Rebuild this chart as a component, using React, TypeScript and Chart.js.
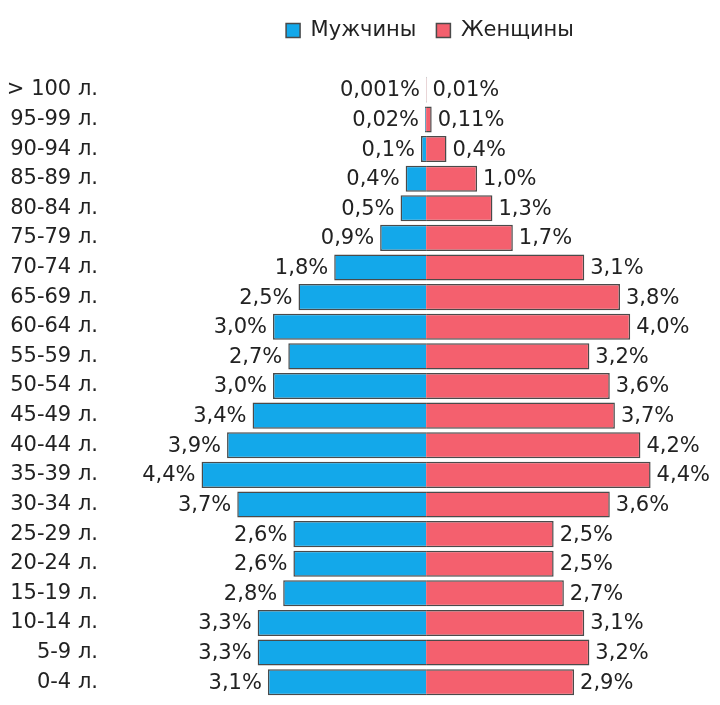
import React, { useEffect, useRef } from "react";
import { Chart, registerables } from "chart.js";

Chart.register(...registerables);

const AGE_GROUPS = [
  "> 100 л.", "95-99 л.", "90-94 л.", "85-89 л.", "80-84 л.", "75-79 л.",
  "70-74 л.", "65-69 л.", "60-64 л.", "55-59 л.", "50-54 л.", "45-49 л.",
  "40-44 л.", "35-39 л.", "30-34 л.", "25-29 л.", "20-24 л.", "15-19 л.",
  "10-14 л.", "5-9 л.", "0-4 л.",
];

const MALE = [0.001, 0.02, 0.1, 0.4, 0.5, 0.9, 1.8, 2.5, 3.0, 2.7, 3.0, 3.4, 3.9, 4.4, 3.7, 2.6, 2.6, 2.8, 3.3, 3.3, 3.1];
const FEMALE = [0.01, 0.11, 0.4, 1.0, 1.3, 1.7, 3.1, 3.8, 4.0, 3.2, 3.6, 3.7, 4.2, 4.4, 3.6, 2.5, 2.5, 2.7, 3.1, 3.2, 2.9];

const SERIES_NAMES = ["Мужчины", "Женщины"];
const FONT = "'DejaVu Sans', sans-serif";

const fmt = (v: number) => {
  let s = String(Math.abs(v));
  if (!s.includes(".")) s += ".0";
  return s.replace(".", ",") + "%";
};

const labelPlugin = {
  id: "barLabels",
  afterLayout(chart: any) {
    const lg = chart.legend;
    if (lg) {
      lg.left += 20;
      lg.right += 20;
    }
  },
  afterDatasetsDraw(chart: any) {
    const ctx = chart.ctx;
    ctx.save();
    ctx.font = `21px ${FONT}`;
    ctx.fillStyle = "#222";
    ctx.textBaseline = "middle";
    chart.data.datasets.forEach((ds: any, di: number) => {
      const meta = chart.getDatasetMeta(di);
      meta.data.forEach((el: any, i: number) => {
        const v = ds.data[i];
        const txt = fmt(v);
        if (di === 0) {
          ctx.textAlign = "right";
          ctx.fillText(txt, Math.min(el.x, el.base) - 6, el.y + 1);
        } else {
          ctx.textAlign = "left";
          ctx.fillText(txt, Math.max(el.x, el.base) + 6, el.y + 1);
        }
      });
    });
    ctx.restore();
  },
};

export default function App() {
  const ref = useRef<HTMLCanvasElement>(null);
  useEffect(() => {
    if (!ref.current) return;
    const chart = new Chart(ref.current, {
      type: "bar",
      data: {
        labels: AGE_GROUPS,
        datasets: [
          {
            label: SERIES_NAMES[0],
            data: MALE.map((v) => -v),
            backgroundColor: "#13A8EA",
            borderColor: "#4a4a4a",
            borderWidth: 1.5,
            borderSkipped: "start",
            categoryPercentage: 0.88,
            barPercentage: 1,
          },
          {
            label: SERIES_NAMES[1],
            data: FEMALE,
            backgroundColor: "#F4606E",
            borderColor: "#4a4a4a",
            borderWidth: 1.5,
            borderSkipped: "start",
            categoryPercentage: 0.88,
            barPercentage: 1,
          },
        ],
      },
      options: {
        indexAxis: "y",
        responsive: false,
        animation: false,
        layout: { padding: { top: 0, left: 0, right: 0, bottom: 8 } },
        plugins: {
          legend: {
            display: true,
            position: "top",
            fullSize: false,
            labels: {
              boxWidth: 14,
              boxHeight: 14,
              padding: 20,
              color: "#222",
              font: { family: FONT, size: 21 },
            },
          },
          tooltip: { enabled: false },
        },
        scales: {
          x: {
            stacked: true,
            position: "top",
            min: -6.39,
            max: 5.76,
            grid: { display: false, drawTicks: false },
            border: { display: false },
            ticks: { display: false },
            afterFit: (scale: any) => {
              scale.height = 24;
            },
          },
          y: {
            stacked: true,
            grid: { display: false, drawTicks: false },
            border: { display: false },
            ticks: {
              padding: 2,
              color: "#222",
              font: { family: FONT, size: 21 },
            },
            afterFit: (scale: any) => {
              scale.width = 100;
              scale.paddingTop = 0;
              scale.paddingBottom = 0;
            },
          },
        },
      },
      plugins: [labelPlugin],
    });
    return () => chart.destroy();
  }, []);
  return (
    <div style={{ position: "fixed", left: 0, top: 0, width: 720, height: 705, background: "#fff" }}>
      <canvas ref={ref} width={720} height={705} style={{ display: "block" }} />
    </div>
  );
}
